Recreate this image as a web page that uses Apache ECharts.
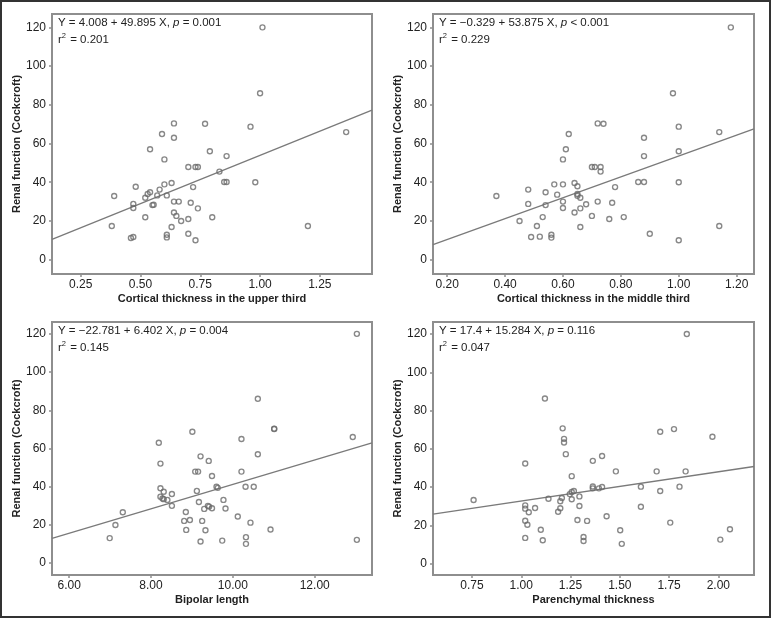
<!DOCTYPE html>
<html>
<head>
<meta charset="utf-8">
<script src="https://cdn.jsdelivr.net/npm/echarts@6/dist/echarts.min.js"></script>
<style>
html,body{margin:0;padding:0;background:#fff;}
#chart{width:771px;height:618px;}
</style>
</head>
<body>
<div id="chart"></div>
<script>
// ---- Data ----
const yTicks = [0, 20, 40, 60, 80, 100, 120];
const upperTicks = [0.25, 0.50, 0.75, 1.00, 1.25];
const middleTicks = [0.20, 0.40, 0.60, 0.80, 1.00, 1.20];
const bipolarTicks = [6, 8, 10, 12];
const parenTicks = [0.75, 1.00, 1.25, 1.50, 1.75, 2.00];

const xTitles = ["Cortical thickness in the upper third", "Cortical thickness in the middle third", "Bipolar length", "Parenchymal thickness"];
const yTitle = "Renal function (Cockcroft)";
const eqIntercepts = ["4.008", "\u22120.329", "\u221222.781", "17.4"];
const eqSlopes = ["49.895", "53.875", "6.402", "15.284"];
const eqP = ["= 0.001", "< 0.001", "= 0.004", "= 0.116"];
const eqR2 = ["0.201", "0.229", "0.145", "0.047"];
const interceptVals = [4.008, -0.329, -22.781, 17.4];
const slopeVals = [49.895, 53.875, 6.402, 15.284];

const upperX = [1.01,1.00,0.64,0.77,0.96,0.59,0.64,1.36,0.54,0.79,0.60,0.86,0.70,0.73,0.74,0.83,0.85,0.86,0.98,0.60,0.63,0.48,0.72,0.58,0.54,0.53,0.39,0.57,0.61,0.52,0.55,0.555,0.47,0.47,0.64,0.66,0.71,0.74,0.64,0.65,0.52,0.70,0.67,0.80,0.38,1.20,0.63,0.70,0.61,0.61,0.47,0.46,0.73];
const upperY = [120,86,70.4,70.2,68.7,64.9,63,65.9,57,56,51.8,53.5,47.9,47.9,47.9,45.5,40.1,40.1,40,38.9,39.6,37.7,37.5,36.2,34.8,33.9,32.9,33.2,33.2,32,28.2,28.4,28.8,26.7,30,30,29.4,26.5,24.4,22.6,21.9,21,20,21.9,17.4,17.4,16.9,13.4,12.9,11.5,11.7,11.2,10];

const middleX = [1.18,0.98,0.72,0.74,1.00,0.62,0.88,1.14,0.61,1.00,0.60,0.88,0.70,0.71,0.73,0.73,0.86,0.88,1.00,0.57,0.60,0.64,0.48,0.65,0.78,0.54,0.58,0.65,0.65,0.37,0.66,0.60,0.72,0.48,0.54,0.68,0.77,0.60,0.66,0.64,0.53,0.70,0.76,0.81,0.45,0.51,0.66,1.14,0.90,0.56,0.56,0.49,0.52,1.00];
const middleY = [120,86,70.4,70.2,68.7,64.9,63,65.9,57,56,51.8,53.5,47.9,47.9,47.9,45.5,40.1,40.1,40,38.9,38.9,39.6,36.2,37.9,37.5,34.8,33.6,33.9,33,32.9,32,30,30,28.8,28.2,28.6,29.4,26.7,26.5,24.4,22,22.6,21,22,20,17.4,16.9,17.4,13.4,12.9,11.4,11.7,11.9,10];

const bipolarX = [13.03,10.61,11.01,11.01,9.01,8.19,10.21,12.93,9.21,9.41,10.61,8.23,9.08,9.15,10.21,9.49,9.60,9.63,10.31,10.51,9.12,8.23,8.31,8.51,8.23,8.28,8.31,8.40,9.77,9.17,8.51,9.39,9.42,9.30,9.49,9.82,7.31,8.85,10.12,8.81,8.95,9.25,10.43,7.13,8.86,9.33,10.92,6.99,10.32,9.21,9.74,10.32,13.03];
const bipolarY = [120,86,70.4,70.2,68.8,63,65,66,55.9,53.5,57,52.1,47.9,47.9,47.9,45.6,40,39.4,40,40,37.8,39.2,37.4,36.2,34.8,33.8,33.5,33.1,33.1,32,30,30,29.6,28.4,28.7,28.6,26.6,26.8,24.4,22.1,22.6,22.1,21.2,20,17.4,17.2,17.6,13.1,13.6,11.3,11.8,10.1,12.2];

const parenX = [1.84,1.12,1.21,1.775,1.705,1.97,1.217,1.217,1.226,1.41,1.363,1.02,1.256,1.48,1.687,1.834,1.363,1.363,1.394,1.41,1.607,1.803,1.705,1.267,1.256,1.246,1.295,1.138,1.206,1.256,1.198,0.758,1.02,1.02,1.07,1.038,1.295,1.198,1.187,1.607,1.433,1.02,1.285,1.334,1.031,1.756,1.099,1.502,2.059,1.02,1.109,1.316,1.316,2.01,1.51];
const parenY = [120,86.3,70.7,70.3,68.9,66.3,65.2,63.3,57.2,56.2,53.7,52.3,45.7,48.2,48.2,48.2,40.3,39.3,39.3,40,40.2,40.2,37.9,37.9,37.4,36.3,35.1,33.9,34.3,33.6,32.6,33.2,30.4,28.7,29,26.8,30.1,28.9,27.1,29.7,24.7,22.4,22.8,22.3,20.3,21.4,17.7,17.4,17.9,13.4,12.2,13.9,11.8,12.5,10.3];

// ---- Layout ----
const grids = [
  {left: 52, top: 14, width: 320, height: 260},
  {left: 433, top: 14, width: 321, height: 260},
  {left: 52, top: 322, width: 320, height: 253},
  {left: 433, top: 322, width: 321, height: 253}
];
const xRanges = [[0.13, 1.468], [0.151, 1.26], [5.58, 13.4], [0.552, 2.181]];
const yRanges = [[-7.4, 126.9], [-7.4, 126.9], [-6.2, 126.2], [-6.0, 126.3]];
const xTickSets = [upperTicks, middleTicks, bipolarTicks, parenTicks];
const xs = [upperX, middleX, bipolarX, parenX];
const ys = [upperY, middleY, bipolarY, parenY];

const textColor = '#222';
const frameColor = '#8e8e8e';
const markColor = '#6a6a6a';
const tickFont = 'Liberation Sans';

const option = {
  animation: false,
  backgroundColor: '#fff',
  grid: grids.map(g => Object.assign({show: true, borderColor: frameColor, borderWidth: 2, backgroundColor: '#fff', containLabel: false}, g)),
  xAxis: grids.map((g, i) => ({
    type: 'value', gridIndex: i,
    min: xRanges[i][0], max: xRanges[i][1],
    name: xTitles[i], nameLocation: 'middle', nameGap: 19,
    nameTextStyle: {fontFamily: 'Liberation Sans', fontWeight: 'bold', fontSize: 11, color: textColor},
    axisLine: {show: false, onZero: false},
    splitLine: {show: false},
    axisTick: {show: true, length: 3, lineStyle: {color: frameColor, width: 1.5}, customValues: xTickSets[i]},
    axisLabel: {show: true, margin: 5, fontFamily: tickFont, fontSize: 12, color: textColor,
      customValues: xTickSets[i], formatter: v => Number(v).toFixed(2)}
  })),
  yAxis: grids.map((g, i) => ({
    type: 'value', gridIndex: i,
    min: yRanges[i][0], max: yRanges[i][1],
    name: yTitle, nameLocation: 'middle', nameGap: 29, nameRotate: 90,
    nameTextStyle: {fontFamily: 'Liberation Sans', fontWeight: 'bold', fontSize: 11, color: textColor},
    axisLine: {show: false, onZero: false},
    splitLine: {show: false},
    axisTick: {show: true, length: 3, lineStyle: {color: frameColor, width: 1.5}, customValues: yTicks},
    axisLabel: {show: true, margin: 6, fontFamily: tickFont, fontSize: 12, color: textColor,
      customValues: yTicks, formatter: v => String(v)}
  })),
  series: [],
  graphic: []
};

for (let i = 0; i < 4; i++) {
  const lx0 = xRanges[i][0], lx1 = xRanges[i][1];
  option.series.push({
    type: 'line', xAxisIndex: i, yAxisIndex: i,
    data: [[lx0, interceptVals[i] + slopeVals[i] * lx0], [lx1, interceptVals[i] + slopeVals[i] * lx1]],
    showSymbol: false, symbol: 'none', silent: true,
    lineStyle: {color: '#7a7a7a', width: 1.3}, z: 2
  });
  option.series.push({
    type: 'scatter', xAxisIndex: i, yAxisIndex: i,
    data: xs[i].map((x, k) => [x, ys[i][k]]),
    symbol: 'circle', symbolSize: 5,
    itemStyle: {color: 'rgba(255,255,255,0)', borderColor: markColor, borderWidth: 1.4}, z: 3
  });
  const g = grids[i];
  option.graphic.push({
    type: 'text', left: g.left + 6, top: g.top + 3, z: 10,
    style: {
      text: '{n|Y = ' + eqIntercepts[i] + ' + ' + eqSlopes[i] + ' X, }{i|p}{n| ' + eqP[i] + '}\n{n|r}{s|2}{n| = ' + eqR2[i] + '}',
      rich: {
        n: {fontFamily: 'Liberation Sans', fontSize: 11.5, fill: textColor, lineHeight: 17},
        i: {fontFamily: 'Liberation Sans', fontStyle: 'italic', fontSize: 11.5, fill: textColor, lineHeight: 17},
        s: {fontFamily: 'Liberation Sans', fontSize: 7.5, fill: textColor, lineHeight: 17, verticalAlign: 'top', padding: [0, 1, 6, 0]}
      }
    }
  });
}
option.graphic.push({
  type: 'rect', shape: {x: 1, y: 1, width: 769, height: 616}, silent: true, z: 20,
  style: {fill: 'none', stroke: '#333', lineWidth: 2}
});

const chart = echarts.init(document.getElementById('chart'), null, {renderer: 'canvas'});
chart.setOption(option);
</script>
</body>
</html>
